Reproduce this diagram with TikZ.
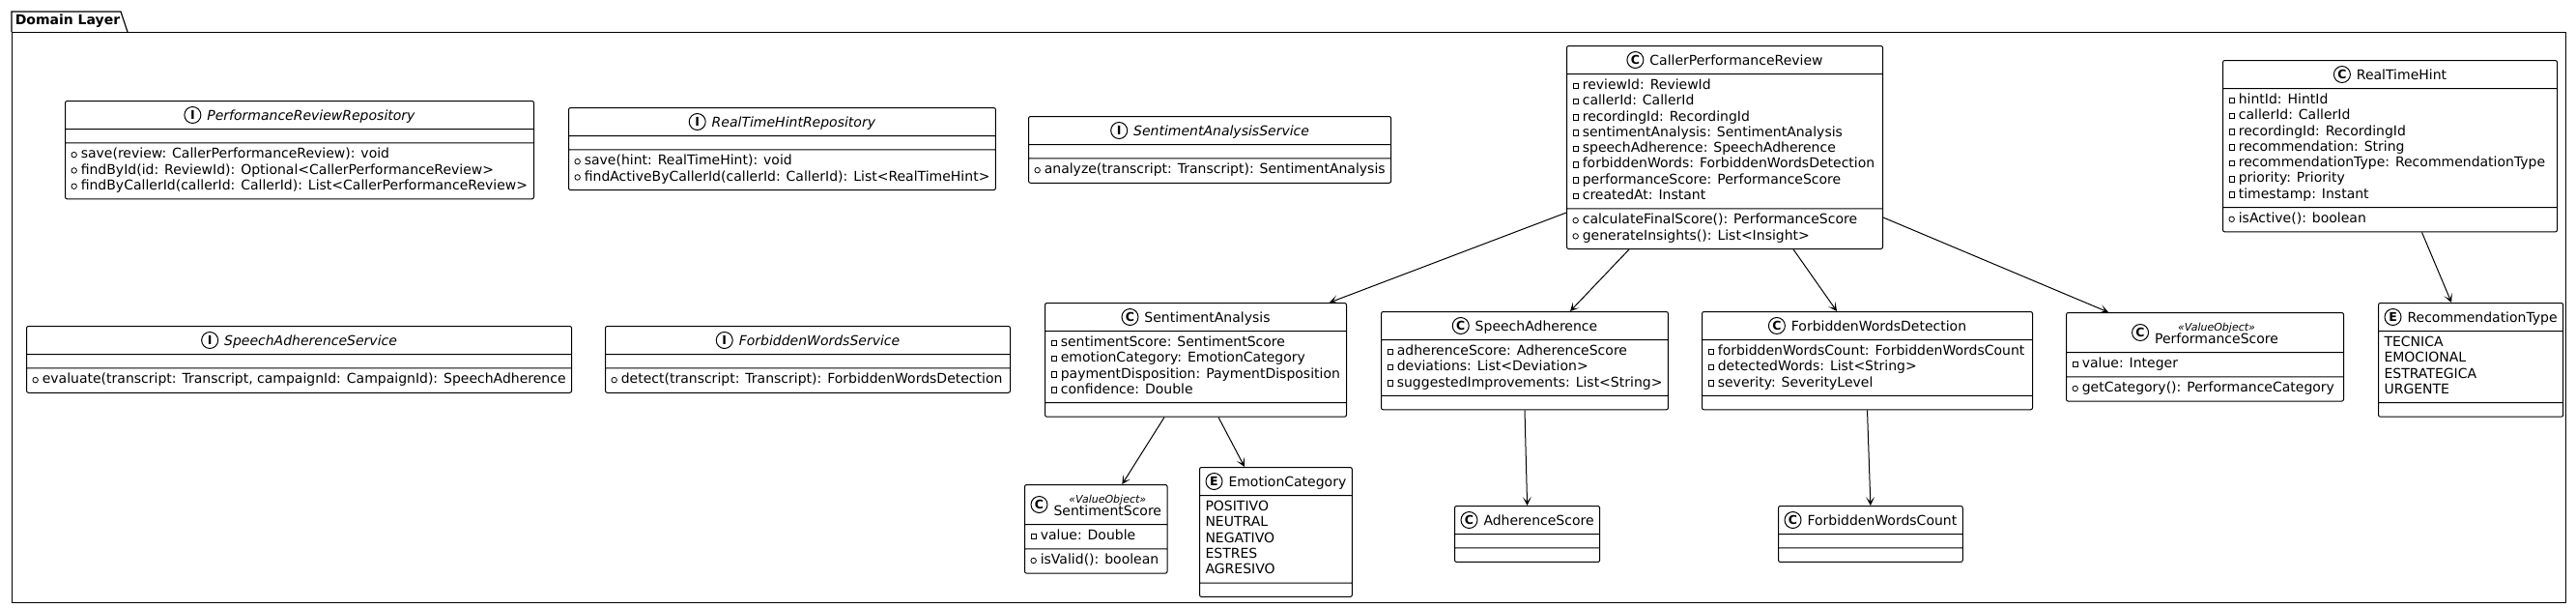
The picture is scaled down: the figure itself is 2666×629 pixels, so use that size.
\documentclass[tikz,border=0pt]{standalone}
\usepackage{fontspec}
\setmainfont{DejaVu Sans}[ItalicFont={DejaVu Sans Oblique},BoldFont={DejaVu Sans Bold},BoldItalicFont={DejaVu Sans Bold Oblique}]
\usetikzlibrary{arrows.meta,shapes.multipart}

\newcommand\clsicon[2][5pt]{\tikz[baseline=-#1]{\draw[line width=1pt,fill=white] (0pt,0pt) circle[radius=8.5pt]; \pgftext{\bfseries\fontsize{12.5}{12.5}\selectfont #2}}}
\newcommand\hdr[2]{\rule[-5pt]{0pt}{20pt}\clsicon{#1}\hspace{6pt}#2}
\newcommand\hdrvo[2]{\rule[-5pt]{0pt}{32pt}\clsicon[11pt]{#1}\hspace{6pt}\begin{tabular}[b]{@{}c@{}}{\fontsize{11}{12}\selectfont\itshape «ValueObject»}\\[-3.5pt]#2\end{tabular}}
\newcommand\priv{\tikz[baseline=0pt]\draw[sharp corners,line width=.8pt] (0pt,1pt) rectangle (5.5pt,6.5pt);\hspace{4pt}}
\newcommand\publ{\tikz[baseline=0pt]\draw[line width=.8pt] (2.75pt,3.75pt) circle[radius=2.75pt];\hspace{4pt}}
\newcommand\members[1]{\begin{tabular}{@{}l@{}}#1\end{tabular}}

\tikzset{
  umlclass/.style={rectangle split,rectangle split parts=3,
    rectangle split part align={center,left,left},
    rectangle split empty part height=0pt,rectangle split empty part depth=0pt,
    rectangle split empty part width=0pt,
    draw,fill=white,line width=1pt,rounded corners=2pt,
    inner xsep=6pt,inner ysep=4pt,anchor=north west,
    font=\fontsize{14}{16.3}\selectfont},
  assoc/.style={->,line width=1pt},
  pkgbody/.style={draw,line width=1.2pt,anchor=north west,inner sep=0pt}
}

\begin{document}
\begin{tikzpicture}[x=1pt,y=-1pt,>={Stealth[length=9pt,width=9pt,inset=5pt]}]
  \useasboundingbox (0,0) rectangle (2666,629);

  % package
  \node[pkgbody,minimum width=2643pt,minimum height=590pt] (domainlayer) at (12,33) {};
  \draw[line width=1.2pt] (domainlayer.north west) -- ++(0,-21) -- ++(113,0) -- ++(7,21);
  \node[font=\bfseries\fontsize{14}{16}\selectfont,inner sep=0pt] (pkgname) at (70,22) {Domain Layer};

  % interfaces
  \node[umlclass,minimum width=485pt] (prr) at (67,104) {\hdr{I}{\textit{PerformanceReviewRepository}}
    \nodepart{two}
    \nodepart{three}\members{\publ save(review: CallerPerformanceReview): void\\
      \publ findById(id: ReviewId): Optional<CallerPerformanceReview>\\
      \publ findByCallerId(callerId: CallerId): List<CallerPerformanceReview>}};
  \node[umlclass,minimum width=441pt] (rthr) at (588,111) {\hdr{I}{\textit{RealTimeHintRepository}}
    \nodepart{two}
    \nodepart{three}\members{\publ save(hint: RealTimeHint): void\\
      \publ findActiveByCallerId(callerId: CallerId): List<RealTimeHint>}};
  \node[umlclass,minimum width=374pt] (sas) at (1064,120) {\hdr{I}{\textit{SentimentAnalysisService}}
    \nodepart{two}
    \nodepart{three}\members{\publ analyze(transcript: Transcript): SentimentAnalysis}};
  \node[umlclass,minimum width=563pt] (spas) at (27,337) {\hdr{I}{\textit{SpeechAdherenceService}}
    \nodepart{two}
    \nodepart{three}\members{\publ evaluate(transcript: Transcript, campaignId: CampaignId): SpeechAdherence}};
  \node[umlclass,minimum width=419pt] (fws) at (626,337) {\hdr{I}{\textit{ForbiddenWordsService}}
    \nodepart{two}
    \nodepart{three}\members{\publ detect(transcript: Transcript): ForbiddenWordsDetection}};

  % aggregates
  \node[umlclass,minimum width=327pt] (cpr) at (1621,47) {\hdr{C}{CallerPerformanceReview}
    \nodepart{two}\members{\priv reviewId: ReviewId\\
      \priv callerId: CallerId\\
      \priv recordingId: RecordingId\\
      \priv sentimentAnalysis: SentimentAnalysis\\
      \priv speechAdherence: SpeechAdherence\\
      \priv forbiddenWords: ForbiddenWordsDetection\\
      \priv performanceScore: PerformanceScore\\
      \priv createdAt: Instant}
    \nodepart{three}\members{\publ calculateFinalScore(): PerformanceScore\\
      \publ generateInsights(): List<Insight>}};
  \node[umlclass,minimum width=346pt] (rth) at (2300,62) {\hdr{C}{RealTimeHint}
    \nodepart{two}\members{\priv hintId: HintId\\
      \priv callerId: CallerId\\
      \priv recordingId: RecordingId\\
      \priv recommendation: String\\
      \priv recommendationType: RecommendationType\\
      \priv priority: Priority\\
      \priv timestamp: Instant}
    \nodepart{three}\members{\publ isActive(): boolean}};

  % parts of the review
  \node[umlclass,minimum width=312pt] (sa) at (1081,313) {\hdr{C}{SentimentAnalysis}
    \nodepart{two}\members{\priv sentimentScore: SentimentScore\\
      \priv emotionCategory: EmotionCategory\\
      \priv paymentDisposition: PaymentDisposition\\
      \priv confidence: Double}
    \nodepart{three}};
  \node[umlclass,minimum width=296pt] (spa) at (1429,322) {\hdr{C}{SpeechAdherence}
    \nodepart{two}\members{\priv adherenceScore: AdherenceScore\\
      \priv deviations: List<Deviation>\\
      \priv suggestedImprovements: List<String>}
    \nodepart{three}};
  \node[umlclass,minimum width=342pt] (fwd) at (1761,322) {\hdr{C}{ForbiddenWordsDetection}
    \nodepart{two}\members{\priv forbiddenWordsCount: ForbiddenWordsCount\\
      \priv detectedWords: List<String>\\
      \priv severity: SeverityLevel}
    \nodepart{three}};
  \node[umlclass,minimum width=287pt] (ps) at (2138,323) {\hdrvo{C}{PerformanceScore}
    \nodepart{two}\members{\priv value: Integer}
    \nodepart{three}\members{\publ getCategory(): PerformanceCategory}};
  \node[umlclass,minimum width=185pt] (rt) at (2461,313) {\hdr{E}{RecommendationType}
    \nodepart{two}\members{TECNICA\\ EMOCIONAL\\ ESTRATEGICA\\ URGENTE}
    \nodepart{three}};

  % value objects
  \node[umlclass,minimum width=146pt] (ss) at (1060,501) {\hdrvo{C}{SentimentScore}
    \nodepart{two}\members{\priv value: Double}
    \nodepart{three}\members{\publ isValid(): boolean}};
  \node[umlclass,minimum width=150pt] (ec) at (1241,483) {\hdr{E}{EmotionCategory}
    \nodepart{two}\members{POSITIVO\\ NEUTRAL\\ NEGATIVO\\ ESTRES\\ AGRESIVO}
    \nodepart{three}};
  \node[umlclass,minimum width=143pt] (as) at (1505,523) {\hdr{C}{AdherenceScore}
    \nodepart{two}\nodepart{three}};
  \node[umlclass,minimum width=184pt] (fwc) at (1840,523) {\hdr{C}{ForbiddenWordsCount}
    \nodepart{two}\nodepart{three}};

  % review -> parts
  \draw[assoc] ([yshift=38pt]cpr.south west) -- ([xshift=-18pt]sa.north east);
  \draw[assoc] ([xshift=65pt]cpr.south west) -- ([xshift=-102pt]spa.north east);
  \draw[assoc] ([xshift=-93pt]cpr.south east) -- ([xshift=140pt]fwd.north west);
  \draw[assoc] ([yshift=33pt]cpr.south east) -- ([xshift=44pt]ps.north west);
  \draw[assoc] ([xshift=33pt]rth.south) -- ([xshift=-20pt]rt.north);

  % parts -> values
  \draw[assoc] ([xshift=124pt]sa.south west) -- ([xshift=27pt]ss.north);
  \draw[assoc] ([xshift=180pt]sa.south west) -- ([xshift=47pt]ec.north west);
  \draw[assoc] (spa.south) -- (as.north);
  \draw[assoc] (fwd.south) -- (fwc.north);
\end{tikzpicture}
\end{document}
